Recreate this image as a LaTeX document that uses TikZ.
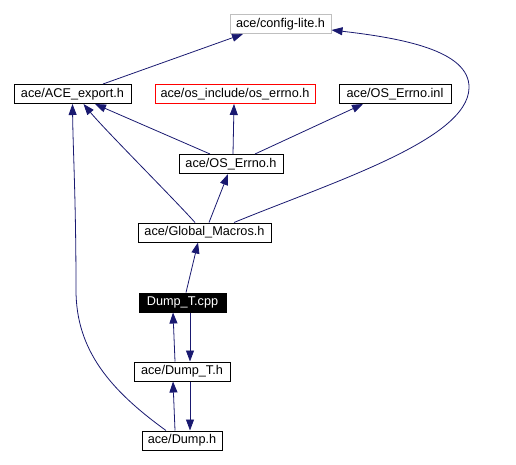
\documentclass[tikz,border=0pt]{standalone}
\usepackage{fontspec}
\setmainfont{Liberation Sans}
\usepackage{xcolor}
\usetikzlibrary{arrows.meta, positioning, calc}

\definecolor{edgeblue}{HTML}{191970}
\definecolor{grayline}{HTML}{BFBFBF}

\begin{document}
\begin{tikzpicture}[
  x=1pt, y=-1pt,
  file/.style={rectangle, draw=black, fill=white, line width=1pt, inner sep=0pt, minimum height=19pt, font=\fontsize{12.7}{14}\selectfont},
  extfile/.style={file, draw=grayline},
  missfile/.style={file, draw=red},
  curfile/.style={file, fill=black, text=white},
  arrow/.style={{Triangle[length=11pt, width=8pt]}-, line width=0.8pt, draw=edgeblue}
]
\useasboundingbox (0,0) rectangle (516,465);

% Nodes
\node[extfile, minimum width=101pt] (config) at (280.5,24) {ace/config-lite.h};
\node[file, minimum width=117pt] (export) at (72.5,94) {ace/ACE\_export.h};
\node[missfile, minimum width=160pt] (osinc) at (235,94) {ace/os\_include/os\_errno.h};
\node[file, minimum width=112pt] (inl) at (395,94) {ace/OS\_Errno.inl};
\node[file, minimum width=104pt] (oserrno) at (231,164) {ace/OS\_Errno.h};
\node[file, minimum width=133pt] (macros) at (204.5,232.5) {ace/Global\_Macros.h};
\node[curfile, minimum width=87pt] (cpp) at (182.5,302.5) {Dump\_T.cpp};
\node[file, minimum width=96pt] (dumpth) at (182,371.5) {ace/Dump\_T.h};
\node[file, minimum width=80pt] (dumph) at (182,440.5) {ace/Dump.h};

% Arrows (tip at the included file)
\draw[arrow] ([xshift=-37.5pt]config.south) -- ([xshift=30.5pt]export.north);
\draw[arrow] ([xshift=22.5pt]export.south) -- ([xshift=-21pt]oserrno.north);
\draw[arrow] ([xshift=-1pt]osinc.south) -- ([xshift=2pt]oserrno.north);
\draw[arrow] ([xshift=-32pt]inl.south) -- ([xshift=24pt]oserrno.north);
\draw[arrow] ([xshift=11pt]export.south) .. controls (105,130) and (175,200) .. ([xshift=-9.5pt]macros.north);
\draw[arrow] ([xshift=-3pt]oserrno.south) -- ([xshift=4.5pt]macros.north);
\draw[arrow] ([yshift=-6pt]config.east) .. controls (400,38) and (470,50) .. (469,88)
  .. controls (468,140) and (330,183) .. ([xshift=29.5pt]macros.north);
\draw[arrow] ([xshift=-6.5pt]macros.south) -- ([xshift=3.5pt]cpp.north);
\draw[arrow] ([xshift=8pt]dumpth.north) -- ([xshift=7.5pt]cpp.south);
\draw[arrow] ([xshift=-9.5pt]cpp.south) -- ([xshift=-7pt]dumpth.north);
\draw[arrow] ([xshift=-9pt]dumpth.south) -- ([xshift=-7pt]dumph.north);
\draw[arrow] ([xshift=8pt]dumph.north) -- ([xshift=8pt]dumpth.south);
\draw[arrow] (export.south) .. controls (73,150) and (76,200) .. (76,290)
  .. controls (76,350) and (110,390) .. ([xshift=-16pt]dumph.north);

\end{tikzpicture}
\end{document}
